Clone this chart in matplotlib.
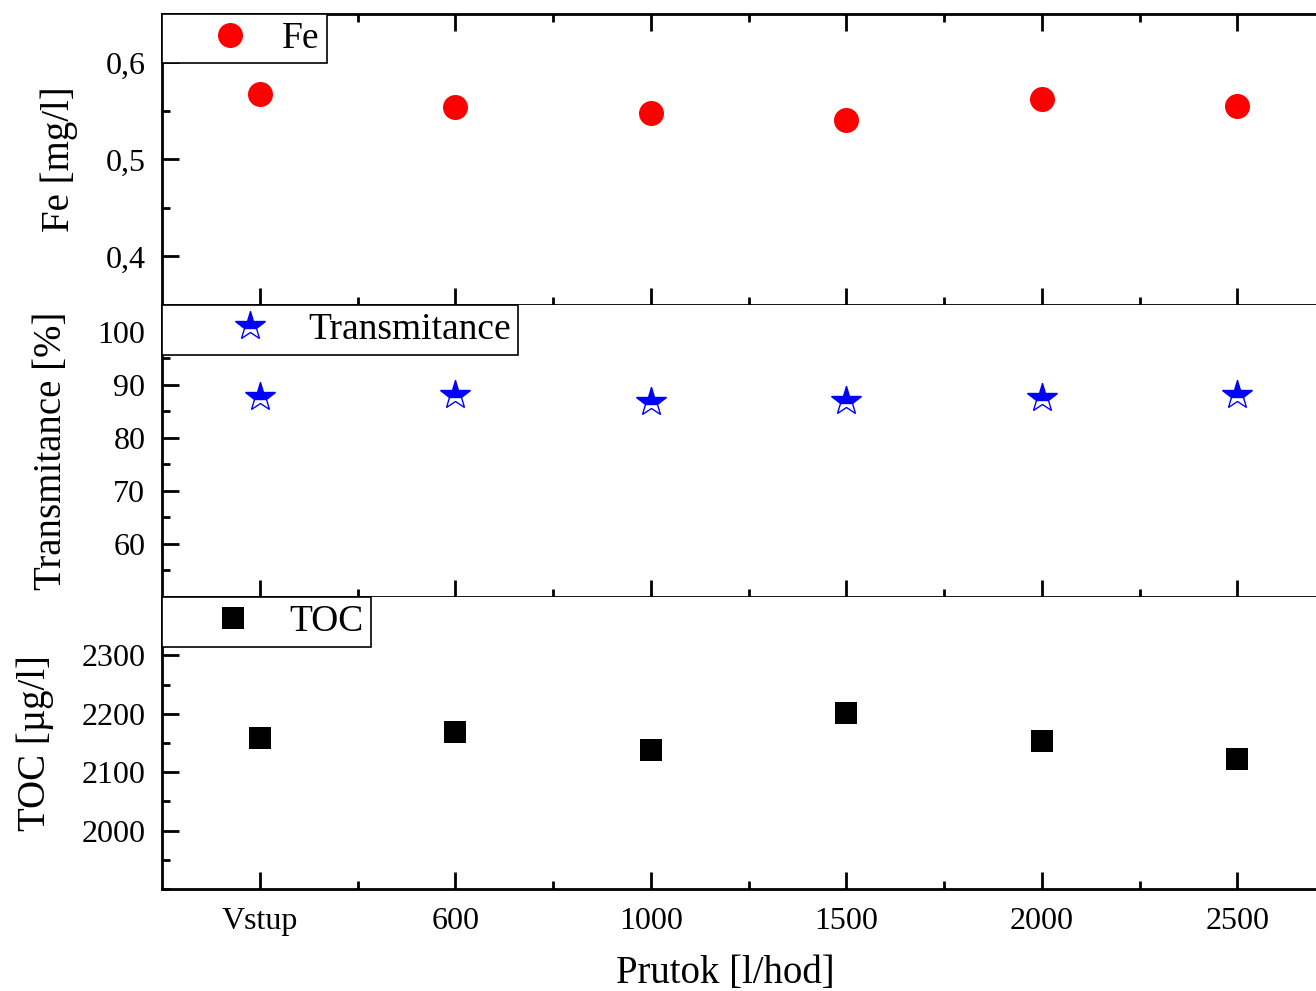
import matplotlib
matplotlib.use("Agg")
import matplotlib.pyplot as plt
from matplotlib.ticker import MultipleLocator, FixedLocator, FuncFormatter

plt.rcParams['font.family'] = ['Liberation Serif', 'DejaVu Serif']

# data
flow_labels = ["Vstup", "600", "1000", "1500", "2000", "2500"]
fe_values = [0.568, 0.554, 0.548, 0.541, 0.562, 0.555]
trans_values = [87.6, 88.1, 86.8, 87.0, 87.4, 88.1]
toc_values = [2158, 2169, 2138, 2201, 2153, 2122]

fe_ticks = [0.4, 0.5, 0.6]
trans_ticks = [60, 70, 80, 90, 100]
toc_ticks = [2000, 2100, 2200, 2300]

W, H = 1316, 991
fig = plt.figure(figsize=(W / 100, H / 100), dpi=100)

# axes geometry in pixels (x right edge runs past the picture, as in the original)
left_px, right_px = 162, 1335
panel_px = [(14, 305), (305, 597), (597, 889)]

axes = []
for top, bottom in panel_px:
    ax = fig.add_axes([left_px / W, 1 - bottom / H, (right_px - left_px) / W, (bottom - top) / H])
    axes.append(ax)

x = list(range(len(flow_labels)))

panels = [
    dict(y=fe_values, marker='o', ms=18, color='red', label='Fe', ylabel='Fe [mg/l]',
         ylim=(0.35, 0.65), ticks=fe_ticks, minor=0.05, hl=3.2, tp=-0.2),
    dict(y=trans_values, marker='*', ms=22, color='blue', label='Transmitance', ylabel='Transmitance [%]',
         ylim=(50, 105), ticks=trans_ticks, minor=5, hl=4.3, tp=-0.6),
    dict(y=toc_values, marker='s', ms=16, color='black', label='TOC', ylabel='TOC [µg/l]',
         ylim=(1900, 2400), ticks=toc_ticks, minor=50, hl=3.4, tp=-0.2),
]

for i, (ax, p) in enumerate(zip(axes, panels)):
    if p['marker'] == '*':
        ax.plot(x, p['y'], linestyle='none', marker='*', ms=p['ms'], color=p['color'],
                fillstyle='top', markerfacecoloralt='white', markeredgewidth=1.0, label=p['label'])
    else:
        ax.plot(x, p['y'], linestyle='none', marker=p['marker'], ms=p['ms'], color=p['color'],
                markeredgewidth=0, label=p['label'])

    ax.set_xlim(-0.5, 5.5)
    ax.set_ylim(*p['ylim'])
    ax.xaxis.set_major_locator(FixedLocator(x))
    ax.xaxis.set_minor_locator(FixedLocator([v + 0.5 for v in x[:-1]]))
    ax.yaxis.set_major_locator(FixedLocator(p['ticks']))
    ax.yaxis.set_minor_locator(MultipleLocator(p['minor']))

    for s in ax.spines.values():
        s.set_linewidth(2.0)
    ax.spines['right'].set_visible(False)
    if i > 0:
        ax.spines['top'].set_visible(False)

    ax.tick_params(which='both', direction='in', top=(i == 0), right=False, width=2.0, labelsize=23)
    ax.tick_params(which='major', length=12)
    ax.tick_params(which='minor', length=6)
    ax.tick_params(axis='y', which='major', pad=12)
    ax.tick_params(axis='x', which='major', pad=13)

    if i == 0:
        ax.yaxis.set_major_formatter(FuncFormatter(lambda v, pos: f"{v:.1f}".replace('.', ',')))

    if i < 2:
        ax.tick_params(axis='x', labelbottom=False)
    else:
        ax.set_xticks(x)
        ax.set_xticklabels(flow_labels)

    ax.set_ylabel(p['ylabel'], fontsize=28, labelpad=20)

    leg = ax.legend(loc='upper left', borderaxespad=0, fontsize=27, numpoints=1,
                    fancybox=False, framealpha=1, edgecolor='black', borderpad=0.2,
                    handlelength=p['hl'], handletextpad=p['tp'])
    leg.get_frame().set_linewidth(1.2)
    leg.set_zorder(5)

axes[2].set_xlabel("Prutok [l/hod]", fontsize=28)
axes[2].xaxis.set_label_coords(0.48, -0.225)

fig.savefig("out.png", dpi=100)
